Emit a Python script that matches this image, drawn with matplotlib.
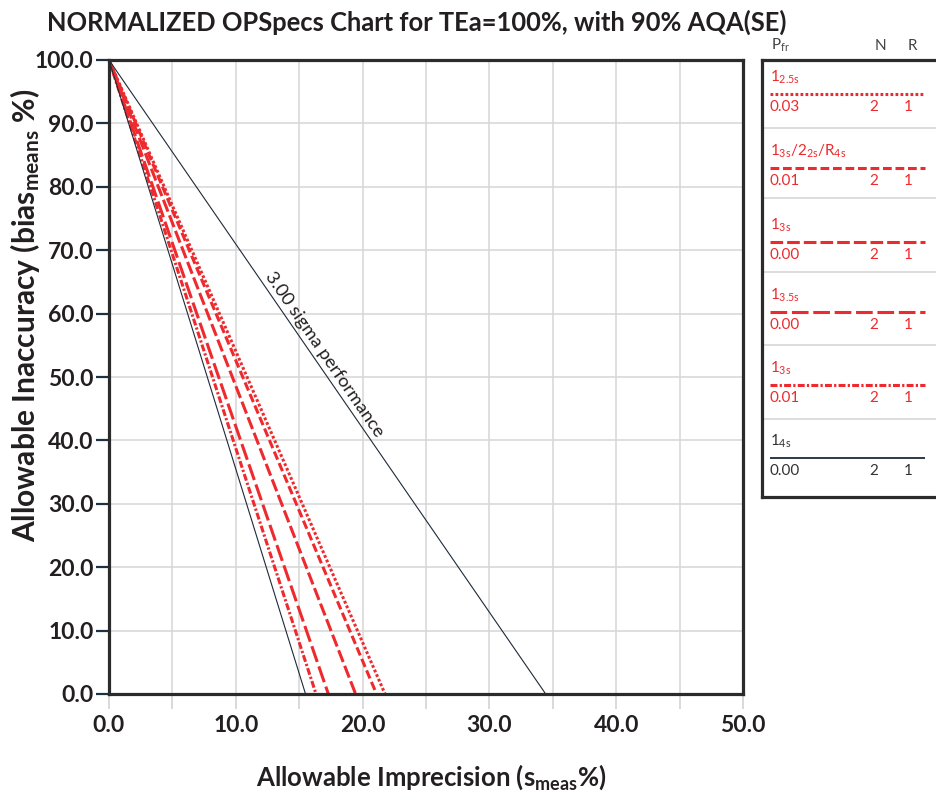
import math
import matplotlib
matplotlib.use("Agg")
import matplotlib.pyplot as plt
from matplotlib.ticker import MultipleLocator, FormatStrFormatter

plt.rcParams['font.family'] = ['Lato', 'DejaVu Sans']
plt.rcParams['mathtext.fontset'] = 'custom'
plt.rcParams['mathtext.rm'] = 'Lato'
plt.rcParams['mathtext.it'] = 'Lato:italic'
plt.rcParams['mathtext.bf'] = 'Lato:bold'
plt.rcParams['mathtext.default'] = 'regular'
plt.rcParams['lines.scale_dashes'] = False

# ---------------- data ----------------
title = "NORMALIZED OPSpecs Chart for TEa=100%, with 90% AQA(SE)"
bias_start = 100.0
rule_labels = ["1$_{2.5s}$", "1$_{3s}$/2$_{2s}$/R$_{4s}$", "1$_{3s}$",
               "1$_{3.5s}$", "1$_{3s}$", "1$_{4s}$"]
pfr_values = ["0.03", "0.01", "0.00", "0.00", "0.01", "0.00"]
n_values = [2, 2, 2, 2, 2, 2]
r_values = [1, 1, 1, 1, 1, 1]
imprecision_intercepts = [21.77, 21.10, 19.45, 17.30, 16.33, 15.50]
sigma_intercept = 34.44
sigma_label = "3.00 sigma performance"
x_ticks = [0, 10, 20, 30, 40, 50]
y_ticks = [0, 10, 20, 30, 40, 50, 60, 70, 80, 90, 100]

# ---------------- styles ----------------
RED = '#ee2a2e'
DARK = '#231f20'
styles = [
    dict(color=RED, lw=2.2, dashes=(2.0, 1.6)),
    dict(color=RED, lw=2.2, dashes=(6.3, 2.7)),
    dict(color=RED, lw=2.2, dashes=(9.1, 2.9)),
    dict(color=RED, lw=2.2, dashes=(12.0, 3.4)),
    dict(color=RED, lw=2.2, dashes=(5.0, 1.6, 1.6, 1.6)),
    dict(color='#1e2a38', lw=0.8, linestyle='-'),
]
text_colors = [RED, RED, RED, RED, RED, '#333333']

W, H = 937, 795
fig = plt.figure(figsize=(W / 100, H / 100), dpi=100)
ax = fig.add_axes([109 / W, 1 - 694 / H, (743 - 109) / W, (694 - 60) / H])
ax.set_xlim(0, 50)
ax.set_ylim(0, 100)

ax.xaxis.set_minor_locator(MultipleLocator(5))
ax.set_xticks(x_ticks)
ax.set_yticks(y_ticks)
ax.xaxis.set_major_formatter(FormatStrFormatter('%.1f'))
ax.yaxis.set_major_formatter(FormatStrFormatter('%.1f'))
ax.grid(True, which='both', axis='x', color='#d6d6d6', lw=1.1, zorder=0)
ax.grid(True, which='major', axis='y', color='#d6d6d6', lw=1.1, zorder=0)
ax.set_axisbelow(True)

ax.tick_params(axis='x', which='both', direction='out', length=11, width=1.1,
               color='#d0d0d0', pad=4, labelsize=16.5, labelcolor=DARK)
ax.tick_params(axis='y', which='major', direction='out', length=9.5, width=1.6,
               color='#1c3146', pad=1.5, labelsize=16.5, labelcolor=DARK)
for lab in ax.get_xticklabels() + ax.get_yticklabels():
    lab.set_fontweight('bold')
for sp in ax.spines.values():
    sp.set_linewidth(2.3)
    sp.set_color('#2b2b2b')
    sp.set_zorder(5)

# lines
for x0, st in zip(imprecision_intercepts, styles):
    ax.plot([0, x0], [bias_start, 0], solid_capstyle='butt', dash_capstyle='butt', zorder=3, **st)
ax.plot([0, sigma_intercept], [bias_start, 0], color='#1e2a38', lw=0.8, zorder=3)

# sigma label rotated along the line
p0 = ax.transData.transform((0, bias_start))
p1 = ax.transData.transform((sigma_intercept, 0))
ang = math.degrees(math.atan2(p1[1] - p0[1], p1[0] - p0[0]))
ax.text(16.95, 53.6, sigma_label, rotation=ang, rotation_mode='anchor',
        ha='center', va='center', fontsize=13.3, color=DARK, zorder=4)

# labels
ax.set_xlabel("Allowable Imprecision (s$_{meas}$%)", fontsize=18.5, fontweight='bold', color=DARK)
ax.set_ylabel("Allowable Inaccuracy (bias$_{means}$ %)", fontsize=21.5, fontweight='bold', color=DARK)
ax.xaxis.set_label_coords((431 - 109) / 634, (694 - 763) / 634)
ax.yaxis.set_label_coords((42 - 109) / 634, (694 - 315) / 634)

fig.text(417 / W, 1 - 22 / H, title, ha='center', va='center', fontsize=18.4,
         fontweight='bold', color=DARK)

# ---------------- legend panel ----------------
lax = fig.add_axes([762 / W, 1 - 497 / H, (962 - 762) / W, (497 - 60) / H])
lax.set_xlim(762, 962)
lax.set_ylim(497, 60)
lax.set_xticks([])
lax.set_yticks([])
for sp in lax.spines.values():
    sp.set_linewidth(2.3)
    sp.set_color('#2b2b2b')

FS = 11
lax.text(771, 50, "P$_{fr}$", fontsize=FS, color='#444444', ha='left', va='baseline')
lax.text(880, 50, "N", fontsize=FS, color='#444444', ha='center', va='baseline')
lax.text(912, 50, "R", fontsize=FS, color='#444444', ha='center', va='baseline')

row_lines = [94, 168, 242, 312, 385, 458]
separators = [128, 198, 272, 345, 419]
for s in separators:
    lax.axhline(s, color='#d3d3d3', lw=1.1)
for i, L in enumerate(row_lines):
    st = dict(styles[i])
    if i == 5:
        st['lw'] = 1.3
    lax.plot([770, 925], [L, L], dash_capstyle='butt', solid_capstyle='butt', **st)
    c = text_colors[i]
    lax.text(770, L - 12, rule_labels[i], fontsize=FS, color=c, ha='left', va='baseline')
    lax.text(770, L + 17, pfr_values[i], fontsize=FS, color=c, ha='left', va='baseline')
    lax.text(874, L + 17, str(n_values[i]), fontsize=FS, color=c, ha='center', va='baseline')
    lax.text(908, L + 17, str(r_values[i]), fontsize=FS, color=c, ha='center', va='baseline')

fig.savefig("out.png", dpi=100)
